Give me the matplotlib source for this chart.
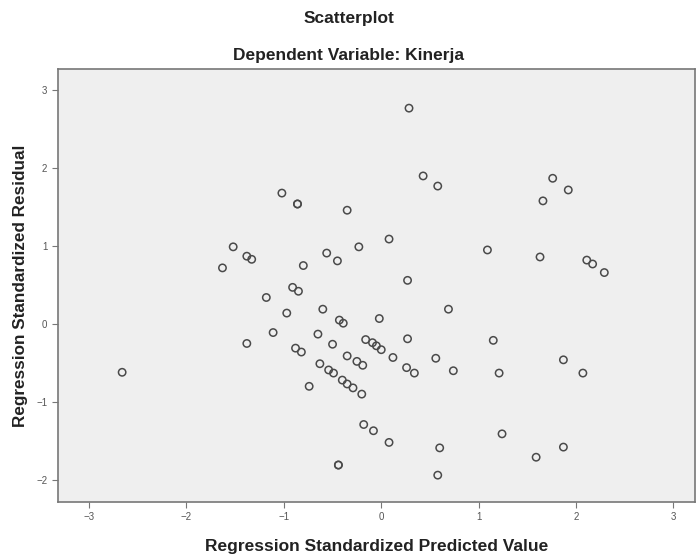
import matplotlib
matplotlib.use("Agg")
import matplotlib.pyplot as plt

# standardized predicted values (x) and residuals (y)
pred = [-2.66, -1.63, -1.52, -1.38, -1.33, -1.18, -1.38, -1.11, -0.97, -1.02,
        -0.86, -0.86, -0.35, -0.80, -0.56, -0.45, -0.91, -0.85, -0.88, -0.82,
        -0.60, -0.65, -0.50, -0.63, -0.54, -0.49, -0.74, -0.43, -0.39, -0.35,
        -0.40, -0.35, -0.29, -0.20, -0.23, 0.08, 0.285, 0.43, 0.58, 0.27,
        -0.02, 0.69, -0.16, -0.09, -0.05, 0.00, 0.27, 0.12, -0.25, -0.19,
        0.26, 0.34, 0.56, 0.74, 1.09, 1.15, 1.21, 1.63, 1.66, 1.76,
        1.92, 2.11, 2.17, 2.29, 1.87, 2.07, -0.18, -0.08, 0.08, 0.60,
        0.58, 1.24, 1.59, 1.87, -0.44, -0.44]
resid = [-0.62, 0.72, 0.99, 0.87, 0.83, 0.34, -0.25, -0.11, 0.14, 1.68,
         1.54, 1.54, 1.46, 0.75, 0.91, 0.81, 0.47, 0.42, -0.31, -0.36,
         0.19, -0.13, -0.26, -0.51, -0.59, -0.63, -0.80, 0.05, 0.01, -0.41,
         -0.72, -0.77, -0.82, -0.90, 0.99, 1.09, 2.77, 1.90, 1.77, 0.56,
         0.07, 0.19, -0.20, -0.24, -0.28, -0.33, -0.19, -0.43, -0.48, -0.53,
         -0.56, -0.63, -0.44, -0.60, 0.95, -0.21, -0.63, 0.86, 1.58, 1.87,
         1.72, 0.82, 0.77, 0.66, -0.46, -0.63, -1.29, -1.37, -1.52, -1.59,
         -1.94, -1.41, -1.71, -1.58, -1.81, -1.81]

xticks = [-3, -2, -1, 0, 1, 2, 3]
yticks = [-2, -1, 0, 1, 2, 3]

plt.rcParams['font.family'] = ['Liberation Sans', 'DejaVu Sans']

fig = plt.figure(figsize=(6.97, 5.58), dpi=100)
ax = fig.add_axes([0.083, 0.101, 0.914, 0.775])
ax.set_facecolor('#efefef')

ax.scatter(pred, resid, s=28, facecolors='none', edgecolors='#4a4a4a', linewidths=1.1)

ax.set_xlim(-3.32, 3.22)
ax.set_ylim(-2.28, 3.27)
ax.set_xticks(xticks)
ax.set_yticks(yticks)
ax.tick_params(direction='out', length=4, width=0.8, colors='#777777', labelsize=7, labelcolor='#555555')

for s in ax.spines.values():
    s.set_color('#777777')
    s.set_linewidth(1.2)

ax.set_xlabel('Regression Standardized Predicted Value', fontsize=12.5, fontweight='bold', color='#222222', labelpad=12)
ax.set_ylabel('Regression Standardized Residual', fontsize=12.3, fontweight='bold', color='#222222', labelpad=6)

fig.text(0.5, 0.967, 'Scatterplot', ha='center', va='center', fontsize=12.5, fontweight='bold', color='#222222')
fig.text(0.5, 0.901, 'Dependent Variable: Kinerja', ha='center', va='center', fontsize=12.5, fontweight='bold', color='#222222')

plt.savefig('out.png', dpi=100)
plt.close()
